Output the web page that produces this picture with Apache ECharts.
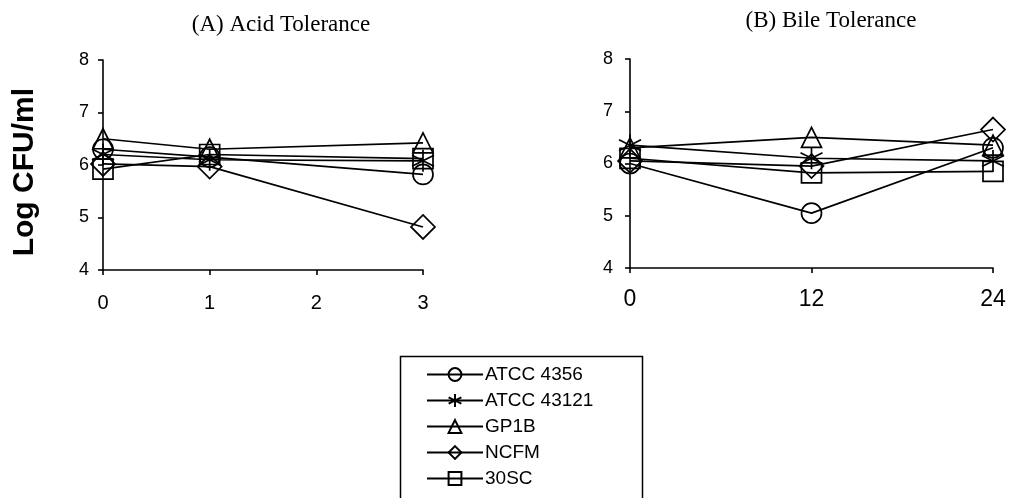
<!DOCTYPE html>
<html>
<head>
<meta charset="utf-8">
<script src="https://cdn.jsdelivr.net/npm/echarts@6/dist/echarts.min.js"></script>
<style>
  html, body { margin: 0; padding: 0; background: #fff; }
  #chartDiv { width: 1014px; height: 498px; }
</style>
</head>
<body>
<div id="chartDiv"></div>
<script>
// data
var strains = ['ATCC 4356', 'ATCC 43121', 'GP1B', 'NCFM', '30SC'];
var acidHours = [0, 1, 3];
var bileHours = [0, 12, 24];
var acidValues = {
    'ATCC 4356': [6.3, 6.15, 5.82],
    'ATCC 43121': [6.2, 6.1, 6.08],
    'GP1B': [6.5, 6.3, 6.42],
    'NCFM': [6.02, 5.97, 4.82],
    '30SC': [5.92, 6.2, 6.12]
};
var bileValues = {
    'ATCC 4356': [6.0, 5.05, 6.3],
    'ATCC 43121': [6.35, 6.1, 6.05],
    'GP1B': [6.3, 6.5, 6.35],
    'NCFM': [6.05, 5.95, 6.65],
    '30SC': [6.1, 5.82, 5.85]
};
var yTicks = [4, 8, 1];   // min, max, step

var asterisk = 'path://M0,-10L0,10M-8.66,-5L8.66,5M-8.66,5L8.66,-5';
var symbols = {
    'ATCC 4356': ['circle', 20],
    'ATCC 43121': [asterisk, 22],
    'GP1B': ['triangle', 20],
    'NCFM': ['diamond', 24],
    '30SC': ['rect', 20]
};

var sansFont = '"Liberation Sans", Arial, sans-serif';
var serifFont = '"Liberation Serif", "Times New Roman", serif';

function makeXAxis(idx, max, step, size, margin) {
    return {
        type: 'value', gridIndex: idx, min: 0, max: max, interval: step,
        splitLine: { show: false },
        axisLine: { lineStyle: { color: '#000', width: 1.6 } },
        axisTick: { length: 5, lineStyle: { color: '#000', width: 1.6 } },
        axisLabel: { color: '#000', fontSize: size, fontFamily: sansFont, margin: margin }
    };
}
function makeYAxis(idx, margin) {
    return {
        type: 'value', gridIndex: idx, min: yTicks[0], max: yTicks[1], interval: yTicks[2],
        splitLine: { show: false },
        axisLine: { show: true, lineStyle: { color: '#000', width: 1.6 } },
        axisTick: { show: true, length: 5, lineStyle: { color: '#000', width: 1.6 } },
        axisLabel: { color: '#000', fontSize: 18, fontFamily: sansFont, margin: margin }
    };
}

var series = [];
strains.forEach(function (name) {
    [[0, acidHours, acidValues], [1, bileHours, bileValues]].forEach(function (g) {
        series.push({
            name: name,
            type: 'line',
            xAxisIndex: g[0],
            yAxisIndex: g[0],
            data: g[1].map(function (h, i) { return [h, g[2][name][i]]; }),
            symbol: symbols[name][0],
            symbolSize: symbols[name][1],
            showAllSymbol: true,
            itemStyle: { color: 'rgba(255,255,255,0)', borderColor: '#000', borderWidth: 1.7 },
            lineStyle: { color: '#000', width: 1.7 },
            emphasis: { disabled: true },
            animation: false
        });
    });
});

var option = {
    backgroundColor: '#fff',
    animation: false,
    title: [
        { text: '(A) Acid Tolerance', left: 276, top: 8, textAlign: 'center',
          textStyle: { fontFamily: serifFont, fontSize: 23, fontWeight: 'normal', color: '#000' } },
        { text: '(B) Bile Tolerance', left: 826, top: 4, textAlign: 'center',
          textStyle: { fontFamily: serifFont, fontSize: 23, fontWeight: 'normal', color: '#000' } }
    ],
    grid: [
        { left: 103, right: 591, top: 60, bottom: 228 },
        { left: 630, right: 21, top: 59, bottom: 230 }
    ],
    xAxis: [makeXAxis(0, 3, 1, 20, 23), makeXAxis(1, 24, 12, 23, 20)],
    yAxis: [makeYAxis(0, 14), makeYAxis(1, 17)],
    legend: {
        data: strains,
        orient: 'vertical',
        left: 426,
        top: 365,
        padding: 0,
        itemGap: 7,
        itemWidth: 56,
        itemHeight: 16,
        textStyle: { fontFamily: sansFont, fontSize: 19, color: '#000', padding: [0, 0, 0, -3] }
    },
    graphic: [{
        type: 'text',
        left: 10,
        top: 88,
        rotation: Math.PI / 2,
        style: {
            text: 'Log CFU/ml',
            font: 'bold 30px ' + sansFont,
            fill: '#000'
        }
    }, {
        // legend frame, runs off the bottom edge like the scan
        type: 'rect',
        left: 398,
        top: 354,
        shape: { width: 242, height: 160 },
        style: { fill: 'none', stroke: '#000', lineWidth: 1.5 }
    }],
    series: series
};

var myChart = echarts.init(document.getElementById('chartDiv'));
myChart.setOption(option);
</script>
</body>
</html>
